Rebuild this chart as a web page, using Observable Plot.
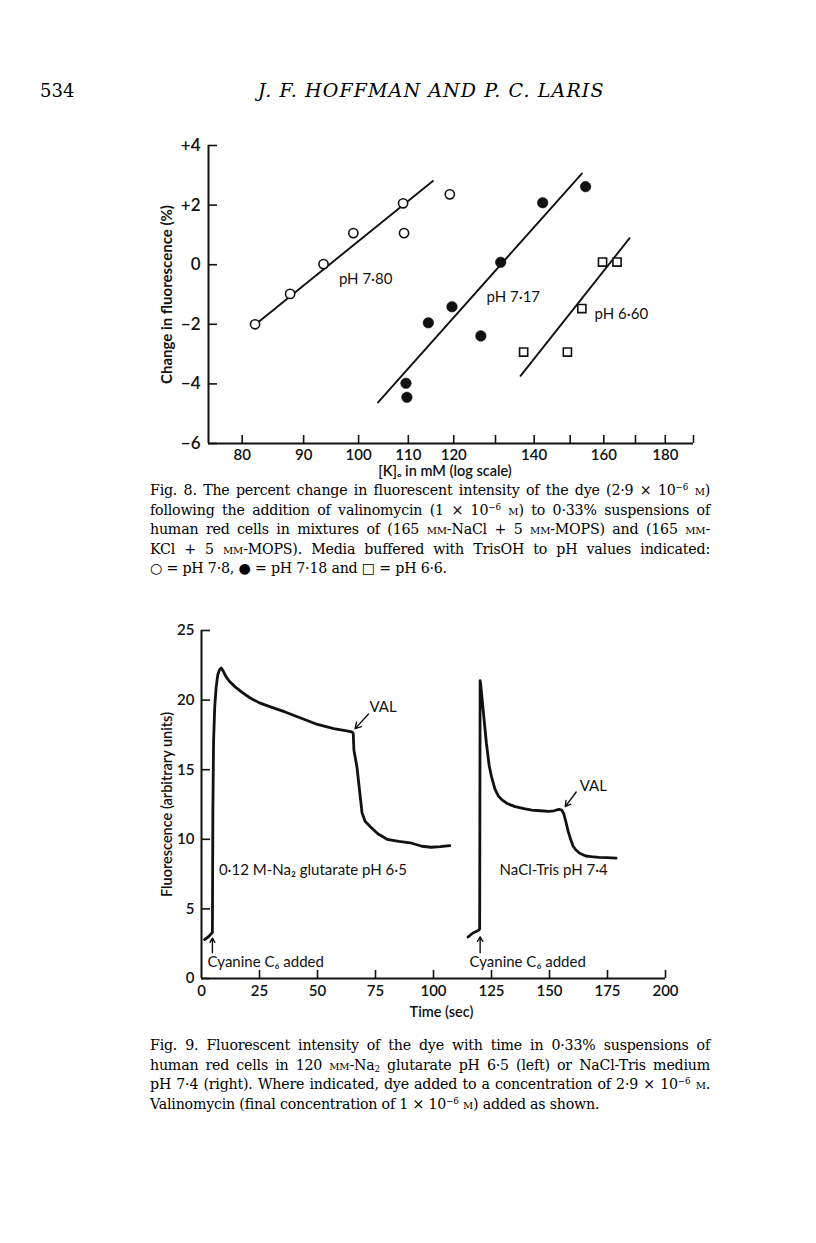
<!DOCTYPE html>
<html>
<head>
<meta charset="utf-8">
<script src="https://cdn.jsdelivr.net/npm/d3@7"></script>
<script src="https://cdn.jsdelivr.net/npm/@observablehq/plot@0.6"></script>
<style>
html,body{margin:0;padding:0;background:#fff;}
body{width:816px;height:1243px;position:relative;overflow:hidden;font-family:"DejaVu Serif",serif;color:#000;}
.pg{position:absolute;left:40px;top:80px;font-size:18px;}
.rh{position:absolute;left:258px;top:79px;font-size:19px;font-style:italic;letter-spacing:1.1px;}
.fig{position:absolute;left:140px;}
.cap{position:absolute;left:150px;width:560px;font-size:14.2px;line-height:19.5px;letter-spacing:-0.2px;}
.cap div{text-align:justify;text-align-last:justify;white-space:nowrap;}
.cap div.last{text-align-last:left;}
.sc{font-variant:small-caps;}
sup{font-size:0.62em;line-height:0;vertical-align:0.55em;}
sub{font-size:0.62em;line-height:0;vertical-align:-0.25em;}
</style>
</head>
<body>
<div class="pg">534</div>
<div class="rh">J. F. HOFFMAN AND P. C. LARIS</div>
<div class="fig" id="fig8" style="top:130px"></div>
<div class="cap" style="top:481px">
<div>Fig. 8. The percent change in fluorescent intensity of the dye (2·9 × 10<sup>−6</sup> <span class="sc">m</span>)</div>
<div>following the addition of valinomycin (1 × 10<sup>−6</sup> <span class="sc">m</span>) to 0·33% suspensions of</div>
<div>human red cells in mixtures of (165 <span class="sc">mm</span>-NaCl + 5 <span class="sc">mm</span>-MOPS) and (165 <span class="sc">mm</span>-</div>
<div>KCl + 5 <span class="sc">mm</span>-MOPS). Media buffered with TrisOH to pH values indicated:</div>
<div class="last">○ = pH 7·8, ● = pH 7·18 and □ = pH 6·6.</div>
</div>
<div class="fig" id="fig9" style="top:615px"></div>
<div class="cap" style="top:1036px">
<div>Fig. 9. Fluorescent intensity of the dye with time in 0·33% suspensions of</div>
<div>human red cells in 120 <span class="sc">mm</span>-Na<sub>2</sub> glutarate pH 6·5 (left) or NaCl-Tris medium</div>
<div>pH 7·4 (right). Where indicated, dye added to a concentration of 2·9 × 10<sup>−6</sup> <span class="sc">m</span>.</div>
<div class="last">Valinomycin (final concentration of 1 × 10<sup>−6</sup> <span class="sc">m</span>) added as shown.</div>
</div>
<script>
// ---------- Fig. 8 data ----------
const kDomain = [75.0, 190];
const kTicks = [80, 90, 100, 110, 120, 130, 140, 150, 160, 170, 180, 190];
const kLabels = [80, 90, 100, 110, 120, 140, 160, 180];
const yDomain8 = [-6, 4];
const y8Ticks = [4, 2, 0, -2, -4, -6];

const k780 = [82.0, 87.7, 93.5, 99.0, 108.9, 109.1, 119.1];
const d780 = [-2.0, -0.98, 0.02, 1.06, 2.06, 1.06, 2.36];
const k717 = [114.3, 119.6, 126.4, 109.5, 109.7, 131.3, 142.3, 154.5];
const d717 = [-1.95, -1.41, -2.39, -3.98, -4.45, 0.08, 2.08, 2.62];
const k660 = [137.2, 149.2, 153.4, 159.6, 164.1];
const d660 = [-2.93, -2.93, -1.47, 0.09, 0.09];

const fit780K = [82.2, 115.3], fit780D = [-1.98, 2.81];
const fit717K = [103.8, 153.4], fit717D = [-4.62, 3.06];
const fit660K = [136.4, 168.1], fit660D = [-3.73, 0.89];

const phLabels = ["pH 7·80", "pH 7·17", "pH 6·60"];
const phLabelK = [96.3, 127.8, 157.2];
const phLabelD = [-0.5, -1.1, -1.67];

// ---------- Fig. 9 data ----------
const tDomain = [0, 200];
const fDomain = [0, 25];
const tTicks = [0, 25, 50, 75, 100, 125, 150, 175, 200];
const fTicks = [0, 5, 10, 15, 20, 25];

const tLeft = [1.3, 3.0, 4.7, 4.9, 5.2, 5.7, 6.3, 7.0, 7.8, 8.5, 9.3, 10.5, 12.0, 14.5, 17.5, 21, 25, 30, 36, 43, 50, 57, 62, 64.8, 65.4, 65.7, 67.0, 68.2, 69.2, 70.5, 72.8, 76, 80, 85, 90, 95, 99, 103, 107];
const fLeft = [2.8, 3.0, 3.3, 12.0, 17.0, 19.5, 20.9, 21.8, 22.2, 22.3, 22.1, 21.7, 21.35, 20.95, 20.55, 20.15, 19.8, 19.5, 19.15, 18.7, 18.25, 17.95, 17.8, 17.72, 17.6, 16.4, 15.2, 13.4, 11.9, 11.3, 10.9, 10.4, 10.0, 9.85, 9.75, 9.5, 9.43, 9.48, 9.55];

const tRight = [114.9, 117.0, 119.3, 119.9, 120.1, 120.3, 121.4, 122.8, 124.0, 125.0, 126.5, 128.0, 129.4, 132, 135.2, 139, 142.4, 146, 149.7, 152, 154, 155.3, 156.2, 157.0, 158.0, 159.1, 160.2, 161.3, 163, 165.6, 168, 171.4, 175, 178.7];
const fRight = [2.98, 3.27, 3.45, 3.55, 21.4, 21.2, 19.3, 16.9, 15.3, 14.5, 13.6, 13.1, 12.85, 12.55, 12.35, 12.2, 12.1, 12.05, 12.0, 12.05, 12.15, 12.1, 11.8, 11.3, 10.6, 10.0, 9.5, 9.25, 9.0, 8.8, 8.75, 8.7, 8.68, 8.65];

const valLabel = ["VAL", "VAL"];
const valLabelT = [72.4, 163.0];
const valLabelF = [19.5, 13.85];
const valArrowT1 = [72.0, 161.5], valArrowF1 = [19.0, 13.4];
const valArrowT2 = [66.2, 156.8], valArrowF2 = [17.95, 12.35];

const dyeLabel = ["Cyanine C₆ added", "Cyanine C₆ added"];
const dyeLabelT = [2.6, 115.5];
const dyeLabelF = [1.15, 1.15];
const dyeArrowT = [4.7, 120.1];
const dyeArrowF1 = [1.85, 1.85], dyeArrowF2 = [2.9, 3.0];

const mediumLabel = ["0·12 M-Na₂ glutarate pH 6·5", "NaCl-Tris pH 7·4"];
const mediumLabelT = [7.5, 128.5];
const mediumLabelF = [7.8, 7.8];

// ---------- build tables ----------
const zip2 = (a, b) => a.map((v, i) => ({x: v, y: b[i]}));
const font = "Lato, 'Open Sans', 'DejaVu Sans', sans-serif";
const ink = "#111";

// Fig 8
{
  const W = 570, H = 350, ML = 68, MR = 17, MT = 15, MB = 37;
  const fw = W - ML - MR, fh = H - MT - MB;
  const plot = Plot.plot({
    width: W, height: H, marginLeft: ML, marginRight: MR, marginTop: MT, marginBottom: MB,
    style: {fontFamily: font, fontSize: "15px", color: ink, background: "transparent", overflow: "visible"},
    x: {type: "log", domain: kDomain, label: null, axis: null},
    y: {domain: yDomain8, label: null},
    marks: [
      Plot.text(kLabels, {x: d => d, frameAnchor: "bottom", lineAnchor: "top", dy: 6, text: d => String(d), fontSize: 15, fontWeight: 600, fill: ink}),
      Plot.axisY({ticks: y8Ticks, tickSize: 0, tickPadding: 8, tickFormat: d => d > 0 ? "+" + d : d < 0 ? "−" + (-d) : "0", label: null, fontSize: 17, fontWeight: 600}),
      Plot.ruleX(kTicks, {x: d => d, insetTop: fh - 8, stroke: ink, strokeWidth: 1.6}),
      Plot.ruleY(y8Ticks, {y: d => d, insetRight: fw - 9, stroke: ink, strokeWidth: 1.6}),
      Plot.ruleX([kDomain[0]], {stroke: ink, strokeWidth: 2}),
      Plot.ruleY([yDomain8[0]], {stroke: ink, strokeWidth: 2}),
      Plot.line(zip2(fit780K, fit780D), {x: "x", y: "y", stroke: ink, strokeWidth: 1.9}),
      Plot.line(zip2(fit717K, fit717D), {x: "x", y: "y", stroke: ink, strokeWidth: 1.9}),
      Plot.line(zip2(fit660K, fit660D), {x: "x", y: "y", stroke: ink, strokeWidth: 1.9}),
      Plot.dot(zip2(k780, d780), {x: "x", y: "y", r: 4.6, stroke: ink, fill: "white", strokeWidth: 1.6}),
      Plot.dot(zip2(k717, d717), {x: "x", y: "y", r: 5.3, fill: ink, stroke: ink, strokeWidth: 0.5}),
      Plot.dot(zip2(k660, d660), {x: "x", y: "y", symbol: "square", r: 4.6, stroke: ink, fill: "white", strokeWidth: 1.6}),
      Plot.text(phLabels, {x: (d, i) => phLabelK[i], y: (d, i) => phLabelD[i], text: d => d, textAnchor: "start", fontSize: 15, fill: ink}),
      Plot.text(["Change in fluorescence (%)"], {frameAnchor: "left", textAnchor: "middle", dx: -41, rotate: -90, fontSize: 15, fontWeight: 700, fill: ink}),
      Plot.text(["[K]ₒ in mM (log scale)"], {frameAnchor: "bottom", textAnchor: "middle", lineAnchor: "top", dx: -6, dy: 22, fontSize: 14.5, fontWeight: 600, fill: ink})
    ]
  });
  document.getElementById("fig8").appendChild(plot);
}

// Fig 9
{
  const W = 545, H = 415, ML = 61, MR = 20, MT = 15, MB = 52;
  const fw = W - ML - MR, fh = H - MT - MB;
  const leftData = zip2(tLeft, fLeft);
  const rightData = zip2(tRight, fRight);
  const plot = Plot.plot({
    width: W, height: H, marginLeft: ML, marginRight: MR, marginTop: MT, marginBottom: MB,
    style: {fontFamily: font, fontSize: "15px", color: ink, background: "transparent", overflow: "visible"},
    x: {domain: tDomain, label: null},
    y: {domain: fDomain, label: null},
    marks: [
      Plot.axisX({ticks: tTicks, tickSize: 0, tickPadding: 7, tickFormat: d => String(d), label: null, fontWeight: 600}),
      Plot.axisY({ticks: fTicks, tickSize: 0, tickPadding: 7, tickFormat: d => String(d), label: null, fontWeight: 600}),
      Plot.ruleX(tTicks.slice(1), {x: d => d, insetTop: fh - 8, stroke: ink, strokeWidth: 1.6}),
      Plot.ruleY(fTicks, {y: d => d, insetRight: fw - 9, stroke: ink, strokeWidth: 1.6}),
      Plot.ruleX([tDomain[0]], {stroke: ink, strokeWidth: 2}),
      Plot.ruleY([fDomain[0]], {stroke: ink, strokeWidth: 2}),
      Plot.line(leftData, {x: "x", y: "y", stroke: ink, strokeWidth: 2.8, strokeLinejoin: "round"}),
      Plot.line(rightData, {x: "x", y: "y", stroke: ink, strokeWidth: 2.8, strokeLinejoin: "round"}),
      Plot.arrow(valLabel, {x1: (d, i) => valArrowT1[i], y1: (d, i) => valArrowF1[i], x2: (d, i) => valArrowT2[i], y2: (d, i) => valArrowF2[i], stroke: ink, strokeWidth: 1.4, headLength: 8}),
      Plot.arrow(dyeLabel, {x1: (d, i) => dyeArrowT[i], y1: (d, i) => dyeArrowF1[i], x2: (d, i) => dyeArrowT[i], y2: (d, i) => dyeArrowF2[i], stroke: ink, strokeWidth: 1.4, headLength: 6}),
      Plot.text(valLabel, {x: (d, i) => valLabelT[i], y: (d, i) => valLabelF[i], text: d => d, textAnchor: "start", fontSize: 15, fill: ink}),
      Plot.text(dyeLabel, {x: (d, i) => dyeLabelT[i], y: (d, i) => dyeLabelF[i], text: d => d, textAnchor: "start", fontSize: 15, fill: ink}),
      Plot.text(mediumLabel, {x: (d, i) => mediumLabelT[i], y: (d, i) => mediumLabelF[i], text: d => d, textAnchor: "start", fontSize: 15, fill: ink}),
      Plot.text(["Fluorescence (arbitrary units)"], {frameAnchor: "left", textAnchor: "middle", dx: -34, rotate: -90, fontSize: 14.5, fontWeight: 600, fill: ink}),
      Plot.text(["Time (sec)"], {frameAnchor: "bottom", textAnchor: "middle", lineAnchor: "top", dx: 8, dy: 28, fontSize: 14.5, fontWeight: 600, fill: ink})
    ]
  });
  document.getElementById("fig9").appendChild(plot);
}
</script>
</body>
</html>
